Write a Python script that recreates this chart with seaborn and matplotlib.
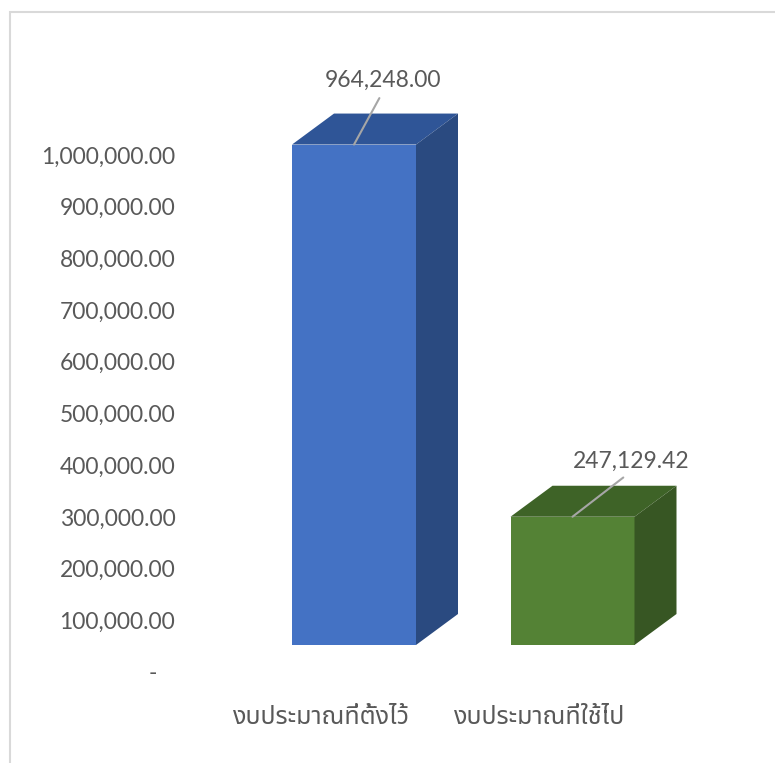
import seaborn as sns
import matplotlib.pyplot as plt
from matplotlib import font_manager
from matplotlib.patches import Polygon, Rectangle
from matplotlib.transforms import ScaledTranslation
from fontTools.ttLib import TTFont

# data
categories = ["งบประมาณที่ตั้งไว้", "งบประมาณที่ใช้ไป"]
values = [964248.00, 247129.42]
front_colors = ["#4472C4", "#548235"]
top_colors = ["#2F5597", "#3E6327"]
side_colors = ["#2A4A80", "#375623"]
yticks = [0, 100000, 200000, 300000, 400000, 500000, 600000, 700000, 800000, 900000, 1000000]
label_offsets = [(21, 46), (42, 40)]  # points, text relative to bar top


def find_thai_font():
    # look for any installed font that has Thai glyphs
    found = []
    for f in font_manager.fontManager.ttflist:
        try:
            tt = TTFont(f.fname, fontNumber=0, lazy=True)
            cmap = tt.getBestCmap()
            if cmap and 0x0E07 in cmap and 0x0E49 in cmap:
                found.append(f.name)
        except Exception:
            pass
    if not found:
        return None
    for pref in ["Noto Sans Thai", "Noto Sans Thai UI", "Sarabun", "Leelawadee", "Tahoma", "Loma", "Garuda"]:
        if pref in found:
            return pref
    return sorted(found)[0]


thai_font = find_thai_font()
num_family = ["Lato", "DejaVu Sans"]
cat_family = ([thai_font] if thai_font else []) + ["DejaVu Sans"]

sns.set_theme(style="white")
plt.rcParams["font.family"] = num_family

W, H = 775, 763
fig = plt.figure(figsize=(W / 100, H / 100), dpi=100)


def rect(left, top, right, bottom):
    return [left / W, 1 - bottom / H, (right - left) / W, (bottom - top) / H]


PX_PER_CAT = 218.5
PX_PER_VAL = 519 / 1e6

# axes for the bars
ax = fig.add_axes(rect(200, 60, 720, 645))
sns.barplot(x=categories, y=values, hue=categories, palette=front_colors,
            legend=False, width=124 / PX_PER_CAT, saturation=1, linewidth=0, ax=ax)
ax.set_xlim(-(354 - 200) / PX_PER_CAT, -(354 - 200) / PX_PER_CAT + 520 / PX_PER_CAT)
ax.set_ylim(0, 585 / PX_PER_VAL)

# 3d depth
dx = 42 / PX_PER_CAT
dy = 31 / PX_PER_VAL
for i, p in enumerate(ax.patches):
    x0, w, h = p.get_x(), p.get_width(), p.get_height()
    p.set_edgecolor("none")
    top = Polygon([(x0, h), (x0 + w, h), (x0 + w + dx, h + dy), (x0 + dx, h + dy)],
                  closed=True, facecolor=top_colors[i], edgecolor="none", clip_on=False)
    side = Polygon([(x0 + w, 0), (x0 + w + dx, dy), (x0 + w + dx, h + dy), (x0 + w, h)],
                   closed=True, facecolor=side_colors[i], edgecolor="none", clip_on=False)
    ax.add_patch(top)
    ax.add_patch(side)
    ax.annotate(f"{values[i]:,.2f}", xy=(x0 + w / 2, h), xytext=label_offsets[i],
                textcoords="offset points", ha="center", va="center",
                fontsize=16.5, color="#595959",
                arrowprops=dict(arrowstyle="-", color="#A6A6A6", lw=1.5,
                                shrinkA=3, shrinkB=0, relpos=(0.5, 0.0)))

ax.set_yticks([])
ax.set_xticks(range(len(categories)))
ax.set_xticklabels(categories, family=cat_family, fontsize=18, color="#595959")
ax.tick_params(axis="x", length=0, pad=43)
shift = ScaledTranslation(-33 / 100, 0, fig.dpi_scale_trans)
for lab in ax.get_xticklabels():
    lab.set_transform(lab.get_transform() + shift)
for s in ax.spines.values():
    s.set_visible(False)
ax.patch.set_alpha(0)

# axes carrying the value ticks
ay = fig.add_axes(rect(185, 60, 720, 672), zorder=-1)
ay.set_ylim(0, 612 / (517 / 1e6))
ay.set_xticks([])
ay.set_yticks(yticks)
ay.set_yticklabels(["-   " if v == 0 else f"{v:,.2f}" for v in yticks], fontsize=16.5, color="#595959")
ay.tick_params(axis="y", length=0, pad=7)
for s in ay.spines.values():
    s.set_visible(False)
ay.patch.set_alpha(0)

# chart border
fig.patches.append(Rectangle((10 / W, -0.1), 1.2, 1.1 - 12 / H, transform=fig.transFigure,
                             fill=False, edgecolor="#D9D9D9", lw=1.5))

fig.savefig("out.png", dpi=100)
